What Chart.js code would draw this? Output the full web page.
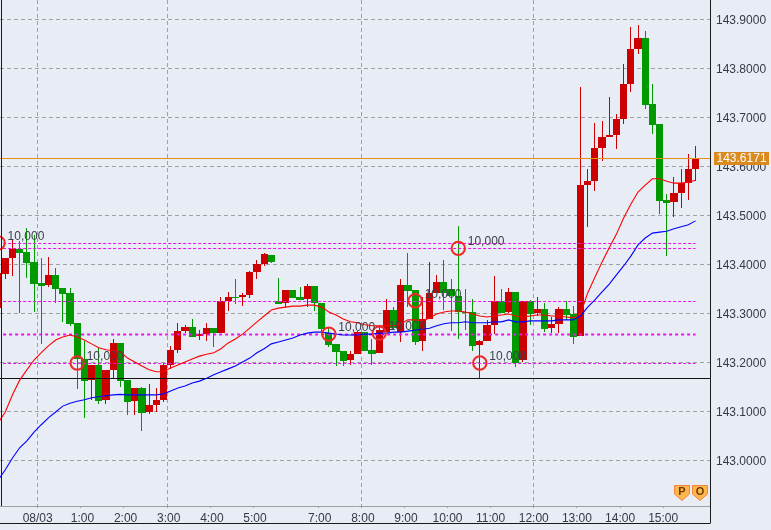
<!DOCTYPE html>
<html><head><meta charset="utf-8">
<style>html,body{margin:0;padding:0;background:#e8ecf4;overflow:hidden}canvas{display:block}</style>
<script src="https://cdn.jsdelivr.net/npm/chart.js@4"></script>
</head><body><canvas id="c" width="771" height="530"></canvas>
<script>
const opens=[143.311,143.381,143.413,143.432,143.425,143.405,143.362,143.358,143.379,143.352,143.342,143.281,143.207,143.164,143.195,143.124,143.185,143.240,143.164,143.121,143.148,143.099,143.113,143.124,143.195,143.226,143.264,143.272,143.254,143.258,143.270,143.260,143.326,143.334,143.334,143.338,143.385,143.401,143.419,143.326,143.321,143.348,143.334,143.330,143.356,143.321,143.260,143.238,143.224,143.205,143.217,143.262,143.226,143.220,143.262,143.307,143.262,143.358,143.348,143.244,143.289,143.342,143.364,143.350,143.336,143.303,143.303,143.236,143.244,143.277,143.326,143.303,143.344,143.205,143.326,143.301,143.309,143.270,143.279,143.309,143.299,143.254,143.562,143.570,143.638,143.660,143.664,143.697,143.768,143.840,143.862,143.727,143.687,143.532,143.528,143.546,143.566,143.595];
const closes=[143.383,143.413,143.432,143.423,143.403,143.360,143.356,143.379,143.350,143.340,143.279,143.207,143.162,143.195,143.121,143.185,143.240,143.162,143.119,143.148,143.097,143.113,143.124,143.195,143.226,143.264,143.272,143.252,143.258,143.270,143.260,143.326,143.334,143.332,143.338,143.385,143.401,143.421,143.405,143.319,143.348,143.332,143.328,143.356,143.321,143.268,143.236,143.222,143.203,143.217,143.262,143.224,143.217,143.266,143.307,143.270,143.358,143.346,143.242,143.289,143.342,143.364,143.342,143.336,143.303,143.301,143.234,143.244,143.277,143.326,143.301,143.344,143.199,143.326,143.299,143.309,143.268,143.279,143.309,143.297,143.252,143.562,143.570,143.638,143.660,143.664,143.697,143.768,143.840,143.862,143.725,143.685,143.530,143.525,143.546,143.566,143.595,143.615];
const highs=[143.430,143.413,143.450,143.448,143.474,143.460,143.413,143.415,143.393,143.352,143.352,143.281,143.244,143.195,143.232,143.185,143.248,143.240,143.164,143.148,143.150,143.156,143.148,143.199,143.234,143.281,143.277,143.289,143.266,143.281,143.270,143.334,143.344,143.370,143.342,143.387,143.409,143.423,143.419,143.372,143.348,143.348,143.354,143.360,143.356,143.321,143.272,143.238,143.224,143.224,143.264,143.262,143.248,143.275,143.330,143.313,143.370,143.423,143.348,143.334,143.405,143.379,143.409,143.370,143.479,143.350,143.330,143.246,143.287,143.377,143.350,143.352,143.344,143.326,143.328,143.334,143.321,143.293,143.313,143.326,143.315,143.762,143.595,143.689,143.693,143.742,143.707,143.809,143.885,143.889,143.877,143.768,143.687,143.544,143.579,143.595,143.626,143.642];
const lows=[143.303,143.370,143.377,143.301,143.372,143.303,143.238,143.354,143.321,143.283,143.275,143.146,143.087,143.124,143.115,143.115,143.168,143.150,143.093,143.093,143.060,143.095,143.099,143.119,143.187,143.220,143.260,143.252,143.246,143.244,143.232,143.260,143.305,143.319,143.315,143.332,143.370,143.397,143.403,143.319,143.313,143.332,143.328,143.313,143.305,143.260,143.232,143.193,143.193,143.195,143.217,143.224,143.195,143.220,143.262,143.266,143.242,143.313,143.236,143.224,143.289,143.342,143.307,143.264,143.248,143.266,143.224,143.168,143.244,143.258,143.301,143.301,143.191,143.201,143.277,143.295,143.262,143.260,143.260,143.287,143.238,143.254,143.477,143.550,143.611,143.660,143.636,143.687,143.752,143.830,143.717,143.666,143.503,143.417,143.497,143.515,143.532,143.570];
const maFast=[143.077,143.099,143.134,143.164,143.185,143.205,143.220,143.234,143.246,143.252,143.256,143.252,143.246,143.238,143.230,143.226,143.224,143.222,143.209,143.201,143.193,143.185,143.181,143.181,143.189,143.195,143.201,143.207,143.213,143.217,143.220,143.228,143.240,143.248,143.258,143.270,143.283,143.295,143.307,143.311,143.313,143.315,143.315,143.317,143.317,143.313,143.303,143.297,143.289,143.283,143.281,143.277,143.275,143.275,143.275,143.275,143.279,143.287,143.287,143.285,143.291,143.299,143.303,143.305,143.305,143.303,143.299,143.295,143.293,143.295,143.297,143.299,143.295,143.293,143.295,143.297,143.297,143.295,143.295,143.293,143.291,143.299,143.342,143.374,143.405,143.434,143.462,143.495,143.523,143.548,143.562,143.575,143.575,143.570,143.566,143.566,143.568,143.572];
const maSlow=[142.960,142.981,143.005,143.026,143.040,143.058,143.073,143.087,143.099,143.111,143.117,143.121,143.124,143.128,143.130,143.132,143.134,143.135,143.134,143.134,143.134,143.134,143.134,143.136,143.142,143.148,143.152,143.158,143.162,143.168,143.175,143.181,143.187,143.193,143.201,143.209,143.220,143.228,143.238,143.242,143.246,143.250,143.256,143.260,143.262,143.262,143.260,143.258,143.256,143.256,143.256,143.258,143.258,143.260,143.260,143.262,143.262,143.264,143.266,143.268,143.270,143.275,143.279,143.281,143.281,143.283,143.281,143.281,143.281,143.283,143.283,143.287,143.283,143.283,143.285,143.285,143.285,143.285,143.287,143.287,143.287,143.295,143.313,143.328,143.344,143.360,143.379,143.397,143.417,143.440,143.454,143.464,143.466,143.468,143.473,143.477,143.481,143.489];
const yTicks=[143.0,143.1,143.2,143.3,143.4,143.5,143.6,143.7,143.8,143.9];
const timeTickPos=[5.5,11.5,17.5,23.5,29.5,35.5,44.5,50.5,56.5,62.5,68.5,74.5,80.5,86.5,92.5];
const timeTickLabels=['08/03','1:00','2:00','3:00','4:00','5:00','7:00','8:00','9:00','10:00','11:00','12:00','13:00','14:00','15:00'];
const dashedTimeTicks=[5.5,23.5,50.5,74.5];
const thinLevels=[143.4433,143.4331,143.3255,143.1975];
const thickLevels=[143.258];
const currentPrice=[143.6171];
const lowLine=[143.1675];
const markerIdx=[0,11,46,53,58,64,67];
const markerVals=[143.444,143.199,143.258,143.260,143.326,143.433,143.199];
const markerText=['10,000','10,000','10,000','10,000','10,000','10,000','10,000'];

const RED='#cc0000',GREEN='#009900',MAG='#ee11ee',FONT='"Liberation Sans",Arial,sans-serif';
const xMin=0.264,xMax=99.01,yMin=142.90714,yMax=143.9398;
const idx=opens.map((_,i)=>i);
const candleColor=idx.map(i=>closes[i]>=opens[i]?RED:GREEN);
const levelDs=(v,c,w,dash,a,b,order)=>({type:'line',snapLine:true,data:[{x:a,y:v},{x:b,y:v}],borderColor:c,borderWidth:w,borderDash:dash,pointRadius:0,order});

const frame={id:'frame',
 afterDatasetsUpdate(chart){
  chart.data.datasets.forEach((d,i)=>{
   const m=chart.getDatasetMeta(i);
   if(d.snapBar)m.data.forEach(el=>{
     if(d.label==='body'){
       const l=Math.round(el.x-3.6),r=Math.round(el.x+3.6);
       el.width=r-l;el.x=(l+r)/2;
     } else el.x=Math.floor(el.x)+0.5;
     el.y=Math.round(el.y);el.base=Math.round(el.base);
     if(el.y===el.base)el.base=el.y+1;
   });
   if(d.snapLine)m.data.forEach(p=>{p.y=Math.floor(p.y)+0.5;});
  });
 },
 afterDraw(chart){
  const c=chart.ctx,a=chart.chartArea,xs=chart.scales.x,ys=chart.scales.y;
  c.save();
  c.font='12px '+FONT;c.textBaseline='middle';c.textAlign='left';c.fillStyle='#3c4048';
  markerIdx.forEach((k,i)=>{
   c.fillText(markerText[i],xs.getPixelForValue(k)+9.5,ys.getPixelForValue(markerVals[i])-6.5);
  });
  c.strokeStyle='#1a1a1a';c.lineWidth=1;c.beginPath();
  c.moveTo(1.5,0);c.lineTo(1.5,a.bottom);
  c.moveTo(a.right+.5,0);c.lineTo(a.right+.5,523.5);
  c.moveTo(0,523.5);c.lineTo(a.right,523.5);
  c.stroke();
  // current price tag
  const py=Math.floor(ys.getPixelForValue(currentPrice[0]));
  c.fillStyle='#db8a1e';c.fillRect(714,py-6,55,13);
  c.fillStyle='#ffffff';c.textAlign='left';c.fillText(currentPrice[0].toFixed(4),716.5,py+1);
  // P and O badges
  [['P',674],['O',692]].forEach(([t,x])=>{
   c.beginPath();c.moveTo(x+.5,485.5);c.lineTo(x+15.5,485.5);c.lineTo(x+15.5,494);c.lineTo(x+8,500.5);c.lineTo(x+.5,494);c.closePath();
   c.fillStyle='#ffb64d';c.fill();c.strokeStyle='#f5813a';c.stroke();
   c.fillStyle='#6b3a00';c.font='bold 11px '+FONT;c.textAlign='center';c.fillText(t,x+8,491.5);
  });
  c.restore();
 }};

new Chart(document.getElementById('c'),{
 type:'bar',
 plugins:[frame],
 data:{datasets:[
  {label:'wick',snapBar:true,grouped:false,order:20,barThickness:1,inflateAmount:0,data:idx.map(i=>({x:i,y:[lows[i],highs[i]]})),backgroundColor:candleColor},
  {label:'body',snapBar:true,grouped:false,order:19,barThickness:7,inflateAmount:0,data:idx.map(i=>({x:i,y:[Math.min(opens[i],closes[i]),Math.max(opens[i],closes[i])]})),backgroundColor:candleColor},
  ...thinLevels.map(v=>levelDs(v,MAG,1,[3,2],0.7,97.0,8)),
  ...thickLevels.map(v=>levelDs(v,MAG,2,[3,3],0.7,97.0,8)),
  ...lowLine.map(v=>levelDs(v,'#111111',1,[],xMin,xMax,7)),
  ...currentPrice.map(v=>levelDs(v,'#e58e1a',1,[],xMin,xMax,7)),
  {type:'line',label:'fast',data:idx.map(i=>({x:i,y:maFast[i]})),borderColor:'#ff0000',borderWidth:1.1,pointRadius:0,tension:0,order:5},
  {type:'line',label:'slow',data:idx.map(i=>({x:i,y:maSlow[i]})),borderColor:'#0000ff',borderWidth:1.1,pointRadius:0,tension:0,order:4},
  {type:'line',label:'signals',showLine:false,data:markerIdx.map((k,i)=>({x:k,y:markerVals[i]})),pointStyle:'circle',pointRadius:6.7,pointBorderWidth:2,pointBorderColor:'#f02828',pointBackgroundColor:'rgba(0,0,0,0)',order:1}
 ]},
 options:{
  responsive:false,animation:false,events:[],
  layout:{padding:0,autoPadding:false},
  plugins:{legend:{display:false},tooltip:{enabled:false},title:{display:false}},
  scales:{
   x:{type:'linear',offset:false,min:xMin,max:xMax,
    afterBuildTicks(s){s.ticks=timeTickPos.map(v=>({value:v}));},
    afterFit(s){s.height=24;s.paddingLeft=0;s.paddingRight=0;},
    grid:{offset:false,drawTicks:true,tickLength:2,tickColor:'#a0a0a0',color:c=>dashedTimeTicks.includes(c.tick&&c.tick.value)?'#a0a0a0':'rgba(0,0,0,0)',lineWidth:1,tickBorderDash:[]},
    border:{display:true,color:'#a0a0a0',width:1,dash:[4,3]},
    ticks:{autoSkip:false,maxRotation:0,padding:3,color:'#333a45',font:{family:FONT,size:12},
     callback(v){const i=timeTickPos.indexOf(v);if(i<0)return '';const t=timeTickLabels[i];return t.length===4?'\u00A0'+t:t;}}},
   y:{type:'linear',position:'right',min:yMin,max:yMax,
    afterBuildTicks(s){s.ticks=yTicks.map(v=>({value:v}));},
    afterFit(s){s.width=61;s.paddingTop=0;s.paddingBottom=0;},
    grid:{drawTicks:false,color:'#a0a0a0',lineWidth:1},
    border:{display:false,dash:[4,3]},
    ticks:{autoSkip:false,padding:6,labelOffset:1,color:'#333a45',font:{family:FONT,size:12},callback(v){return v.toFixed(4);}}}
  }
 }
});
</script></body></html>
